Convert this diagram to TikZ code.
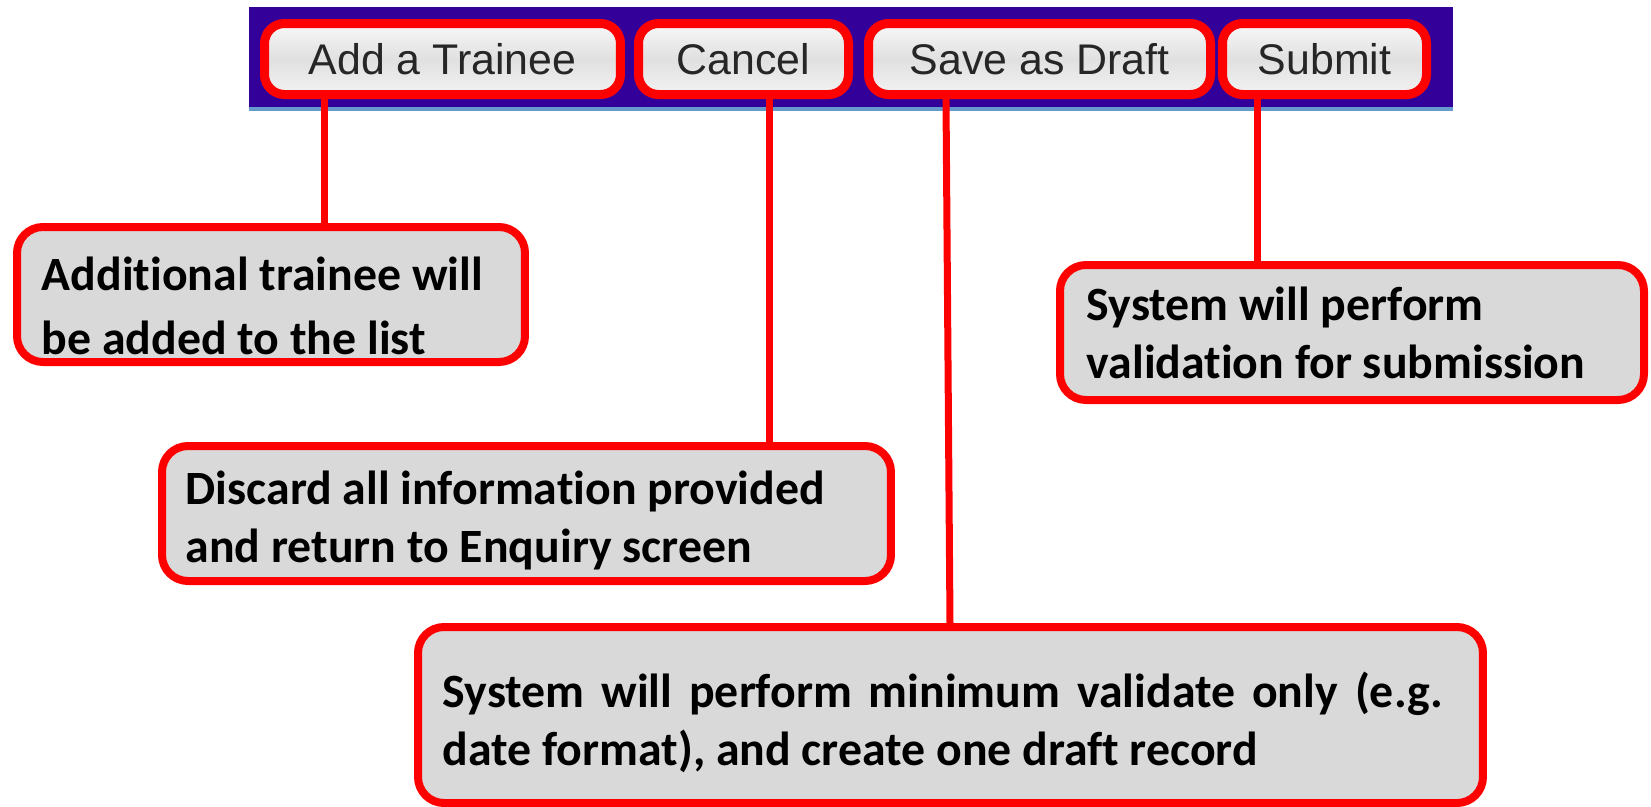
\documentclass[tikz,border=0pt]{standalone}
\usepackage{fontspec}
\setmainfont{Carlito}[Ligatures=NoCommon]
\newfontfamily\btnfont{Liberation Sans}
\usetikzlibrary{calc}
\definecolor{barblue}{RGB}{51,0,153}
\definecolor{barline}{RGB}{102,153,204}
\definecolor{notegray}{RGB}{217,217,217}

\begin{document}
\begin{tikzpicture}[x=0.1mm,y=-0.1mm,
  btn/.style={draw=red,line width=0.9mm,rounded corners=2mm,
    top color=gray!6,bottom color=gray!10,middle color=gray!24,
    minimum height=7.1mm,inner sep=0pt,text=black!85,
    font=\btnfont\fontsize{12.2}{14}\selectfont},
  note/.style={draw=red,line width=0.8mm,rounded corners=2.6mm,fill=notegray,
    inner sep=0pt},
  notetext/.style={anchor=west,align=left,inner sep=0pt,
    font=\bfseries\fontsize{13.6}{16.5}\selectfont},
  link/.style={red,line width=0.7mm}]
  \useasboundingbox (0,0) rectangle (1651,807);
  % toolbar
  \fill[barblue] (249,7) rectangle (1453,107);
  \fill[barline] (249,107) rectangle (1453,111);
  \node[btn,minimum width=35.6mm] (addbtn) at (442.5,59) {Add a Trainee};
  \node[btn,minimum width=21mm] (cancelbtn) at (743.5,59) {Cancel};
  \node[btn,minimum width=34.2mm] (draftbtn) at (1039.5,59) {Save as Draft};
  \node[btn,minimum width=20.4mm] (submitbtn) at (1324.5,59) {Submit};
  % callouts
  \node[note,minimum width=50.8mm,minimum height=13.5mm] (addnote) at (271,294.5) {};
  \node[note,minimum width=72.9mm,minimum height=13.5mm] (cancelnote) at (526.5,513.5) {};
  \node[note,minimum width=106.5mm,minimum height=17.6mm] (draftnote) at (950.5,715) {};
  \node[note,minimum width=58.4mm,minimum height=13.5mm] (submitnote) at (1352,332.5) {};
  \node[notetext,font=\bfseries\fontsize{13.6}{18.2}\selectfont] (addtext)
    at ($(addnote.west)+(28,11)$) {Additional trainee will\\be added to the list};
  \node[notetext] (canceltext) at ($(cancelnote.west)+(27,6.5)$)
    {Discard all information provided\\and return to Enquiry screen};
  \node[notetext] (drafttext) at ($(draftnote.west)+(28,7.5)$)
    {\makebox[100mm][s]{System will perform minimum validate only (e.g.}\\date format), and create one draft record};
  \node[notetext] (submittext) at ($(submitnote.west)+(30,0)$)
    {System will perform\\validation for submission};
  % connectors
  \coordinate (addpin) at ($(addbtn.south west)+(64.5,0)$);
  \coordinate (cancelpin) at ($(cancelbtn.south west)+(135,0)$);
  \coordinate (draftpin) at ($(draftbtn.south west)+(82,0)$);
  \coordinate (submitpin) at ($(submitbtn.south west)+(39,0)$);
  \draw[link] (addpin) -- (addpin |- addnote.north);
  \draw[link] (cancelpin) -- (cancelpin |- cancelnote.north);
  \draw[link] (draftpin) -- ($(draftpin |- draftnote.north)+(4,0)$);
  \draw[link] (submitpin) -- (submitpin |- submitnote.north);
\end{tikzpicture}
\end{document}
